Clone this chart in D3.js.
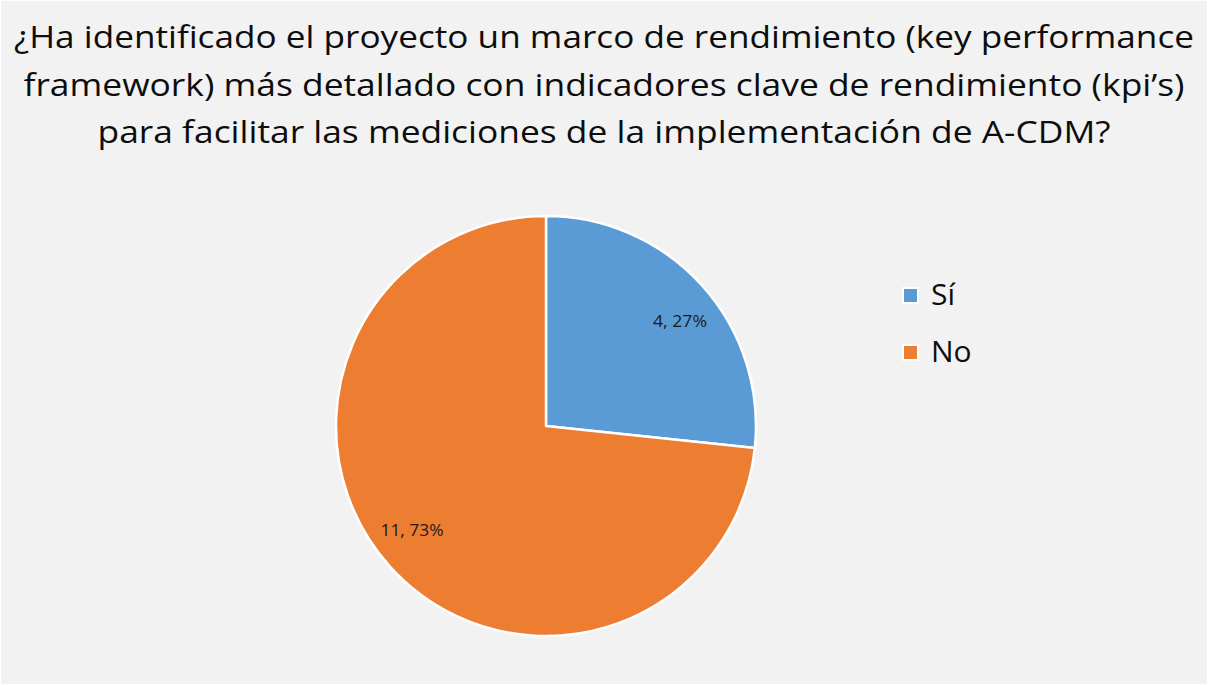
<!DOCTYPE html>
<html>
<head>
<meta charset="utf-8">
<script src="https://cdn.jsdelivr.net/npm/d3@7"></script>
<style>
  body { margin: 0; background: #f2f2f2; }
  svg { display: block; }
</style>
</head>
<body>
<svg id="chart"></svg>
<script>
// data
const titleLines = [
  "¿Ha identificado el proyecto un marco de rendimiento (key performance",
  "framework) más detallado con indicadores clave de rendimiento (kpi’s)",
  "para facilitar las mediciones de la implementación de A-CDM?"
];
const categories = ["Sí", "No"];
const values = [4, 11];
const colors = ["#5b9bd5", "#ed7d31"];

const width = 1208, height = 685;
const cx = 546, cy = 426, radius = 210;

const svg = d3.select("#chart")
  .attr("width", width)
  .attr("height", height);

svg.append("rect")
  .attr("x", 0.5).attr("y", 0.5)
  .attr("width", width - 1).attr("height", height - 1)
  .attr("fill", "#f2f2f2")
  .attr("stroke", "#ffffff");

// title
const lineWidths = [1180, 1161, 1013];
svg.append("g")
  .selectAll("text")
  .data(titleLines)
  .enter()
  .append("text")
  .attr("x", width / 2)
  .attr("y", (d, i) => 48 + i * 47.5)
  .attr("text-anchor", "middle")
  .attr("font-family", "'Open Sans', sans-serif")
  .attr("font-size", 31)
  .attr("fill", "#0d0d0d")
  .attr("textLength", (d, i) => lineWidths[i])
  .attr("lengthAdjust", "spacingAndGlyphs")
  .text(d => d);

// pie
const total = d3.sum(values);
const pie = d3.pie().sort(null).value(d => d)(values);
const arc = d3.arc().innerRadius(0).outerRadius(radius);

const g = svg.append("g").attr("transform", "translate(" + cx + "," + cy + ")");

g.selectAll("path")
  .data(pie)
  .enter()
  .append("path")
  .attr("d", arc)
  .attr("fill", (d, i) => colors[i])
  .attr("stroke", "#ffffff")
  .attr("stroke-width", 2.5)
  .attr("stroke-linejoin", "round");

// data labels, best-fit inside the slices
g.selectAll("text.lbl")
  .data(pie)
  .enter()
  .append("text")
  .attr("class", "lbl")
  .attr("transform", d => {
    const p = d3.pointRadial((d.startAngle + d.endAngle) / 2 + 0.07, 170);
    return "translate(" + p[0] + "," + p[1] + ")";
  })
  .attr("text-anchor", "middle")
  .attr("dy", "0.35em")
  .attr("font-family", "'Open Sans', sans-serif")
  .attr("font-size", 16)
  .attr("fill", "#1a1a1a")
  .attr("textLength", 54)
  .attr("lengthAdjust", "spacingAndGlyphs")
  .text(d => d.data + ", " + Math.round(d.data / total * 100) + "%");

g.selectAll("text.lbl").filter(d => d.data >= 10).attr("textLength", 63);

// legend
const legend = svg.append("g").attr("transform", "translate(903,288)");
const item = legend.selectAll("g")
  .data(categories)
  .enter()
  .append("g")
  .attr("transform", (d, i) => "translate(0," + i * 57 + ")");

item.append("rect")
  .attr("width", 15).attr("height", 15)
  .attr("fill", (d, i) => colors[i])
  .attr("stroke", "#ffffff")
  .attr("stroke-width", 2);

item.append("text")
  .attr("x", 28)
  .attr("y", 17)
  .attr("font-family", "'Open Sans', sans-serif")
  .attr("font-size", 30)
  .attr("fill", "#0d0d0d")
  .text(d => d);
</script>
</body>
</html>
